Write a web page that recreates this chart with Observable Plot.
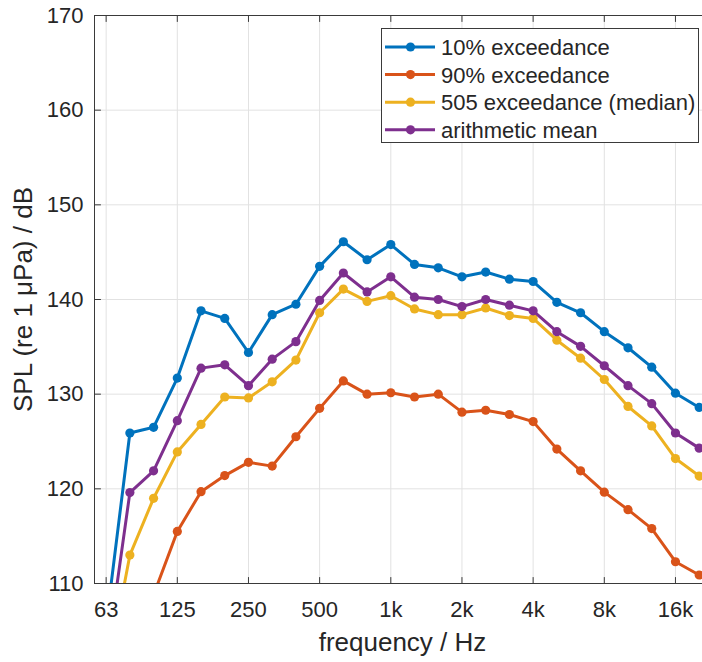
<!DOCTYPE html>
<html>
<head>
<meta charset="utf-8">
<script src="https://cdn.jsdelivr.net/npm/d3@7"></script>
<script src="https://cdn.jsdelivr.net/npm/@observablehq/plot@0.6"></script>
<style>
  body { margin: 0; background: #fff; }
  #wrap { position: relative; width: 702px; height: 662px; overflow: hidden;
          font-family: "Liberation Sans", Arial, Helvetica, sans-serif; }
  #legend { position: absolute; left: 381px; top: 28px; width: 318px; height: 115px;
            box-sizing: border-box; border: 1px solid #3a3a3a; background: #fff; }
  #legend svg { display: block; }
</style>
</head>
<body>
<div id="wrap"><div id="chart"></div><div id="legend"></div></div>
<script>
// third-octave band centre frequencies (Hz)
const freqs = [62.5, 78.75, 99.21, 125, 157.49, 198.43, 250, 314.98, 396.85, 500, 629.96, 793.7,
  1000, 1259.9, 1587.4, 2000, 2519.8, 3174.8, 4000, 5039.7, 6349.6, 8000, 10079, 12699, 16000, 20159];

const seriesNames = ["10% exceedance", "90% exceedance", "505 exceedance (median)", "arithmetic mean"];
const seriesColors = ["#0072BD", "#D95319", "#EDB120", "#7E2F8E"];

const p10 = [105.7, 125.9, 126.5, 131.7, 138.8, 138.0, 134.4, 138.4, 139.5, 143.5, 146.1, 144.2,
  145.8, 143.7, 143.35, 142.4, 142.9, 142.15, 141.9, 139.7, 138.6, 136.6, 134.9, 132.85, 130.1, 128.6];
const p90 = [100.0, 104.0, 108.8, 115.5, 119.7, 121.4, 122.8, 122.4, 125.5, 128.5, 131.4, 130.0,
  130.15, 129.7, 130.0, 128.1, 128.3, 127.85, 127.1, 124.2, 121.9, 119.65, 117.8, 115.8, 112.3, 110.9];
const p50 = [99.8, 113.0, 119.0, 123.9, 126.8, 129.7, 129.6, 131.3, 133.6, 138.6, 141.1, 139.8,
  140.4, 139.0, 138.4, 138.4, 139.1, 138.3, 138.0, 135.7, 133.8, 131.55, 128.7, 126.65, 123.2, 121.35];
const meanLevel = [101.7, 119.6, 121.9, 127.2, 132.75, 133.1, 130.9, 133.7, 135.55, 139.9, 142.8, 140.8,
  142.4, 140.25, 140.0, 139.25, 140.0, 139.4, 138.8, 136.6, 135.05, 133.0, 130.9, 129.0, 125.9, 124.3];

const xTicks = [62.5, 125, 250, 500, 1000, 2000, 4000, 8000, 16000];
const xTickLabels = ["63", "125", "250", "500", "1k", "2k", "4k", "8k", "16k"];
const yTicks = [110, 120, 130, 140, 150, 160, 170];
const xDomain = [55.8, 20820];
const yDomain = [110, 170];

const xLabel = "frequency / Hz";
const yLabel = "SPL (re 1 μPa) / dB";

const seriesValues = [p10, p90, p50, meanLevel];
const rows = seriesNames.map((name, s) => freqs.map((f, i) => ({ f, v: seriesValues[s][i], name })));

const font = '"Liberation Sans", Arial, Helvetica, sans-serif';
const axisColor = "#3a3a3a";
const textColor = "#262626";
const tickShape = { draw(context, l) { context.moveTo(0, 0); context.lineTo(0, -l); } };

const chart = Plot.plot({
  width: 702, height: 662,
  marginLeft: 94, marginRight: 0, marginTop: 15, marginBottom: 79,
  style: { fontFamily: font, color: textColor, background: "white", overflow: "visible" },
  x: { type: "log", domain: xDomain, axis: null },
  y: { domain: yDomain },
  color: { domain: seriesNames, range: seriesColors },
  marks: [
    Plot.gridX(xTicks, { stroke: "#e2e2e2", strokeOpacity: 1, strokeWidth: 1 }),
    Plot.gridY(yTicks, { stroke: "#e2e2e2", strokeOpacity: 1, strokeWidth: 1 }),
    ...rows.flatMap(data => [
      Plot.line(data, { x: "f", y: "v", stroke: "name", strokeWidth: 3, clip: true }),
      Plot.dot(data, { x: "f", y: "v", fill: "name", r: 4.6, clip: true })
    ]),
    // axes box (left, bottom, top; right side falls outside the picture)
    Plot.ruleY(yDomain, { stroke: axisColor, strokeWidth: 1 }),
    Plot.ruleX([xDomain[0]], { stroke: axisColor, strokeWidth: 1 }),
    Plot.vector(xTicks, { x: d => d, frameAnchor: "bottom", length: 6, rotate: 0, anchor: "start", shape: tickShape, stroke: axisColor, strokeWidth: 1 }),
    Plot.vector(xTicks, { x: d => d, frameAnchor: "top", length: 6, rotate: 180, anchor: "start", shape: tickShape, stroke: axisColor, strokeWidth: 1 }),
    Plot.vector(yTicks, { y: d => d, frameAnchor: "left", length: 6, rotate: 90, anchor: "start", shape: tickShape, stroke: axisColor, strokeWidth: 1 }),
    Plot.text(xTicks, { x: d => d, text: (d, i) => xTickLabels[i], frameAnchor: "bottom", dy: 18, lineAnchor: "top", textAnchor: "middle", fontSize: 22, fill: textColor }),
    Plot.axisY(yTicks, { tickSize: 0, tickPadding: 11, fontSize: 22, label: null, fill: textColor }),
    Plot.text([xLabel], { text: d => d, frameAnchor: "bottom", dy: 59, dx: 4, fontSize: 26, lineAnchor: "middle", textAnchor: "middle", fill: textColor }),
    Plot.text([yLabel], { text: d => d, frameAnchor: "left", dx: -71, rotate: -90, fontSize: 26, lineAnchor: "middle", textAnchor: "middle", fill: textColor })
  ]
});
document.getElementById("chart").appendChild(chart);

// legend
const lg = d3.select("#legend").append("svg").attr("width", 316).attr("height", 113)
  .style("font-family", font);
seriesNames.forEach((name, i) => {
  const cy = 18 + i * 27.6;
  lg.append("line").attr("x1", 3).attr("x2", 53).attr("y1", cy).attr("y2", cy)
    .attr("stroke", seriesColors[i]).attr("stroke-width", 3);
  lg.append("circle").attr("cx", 28.5).attr("cy", cy).attr("r", 4.6).attr("fill", seriesColors[i]);
  lg.append("text").attr("x", 59).attr("y", cy).attr("dy", "0.36em").attr("font-size", 22)
    .attr("fill", textColor).text(name);
});
</script>
</body>
</html>
